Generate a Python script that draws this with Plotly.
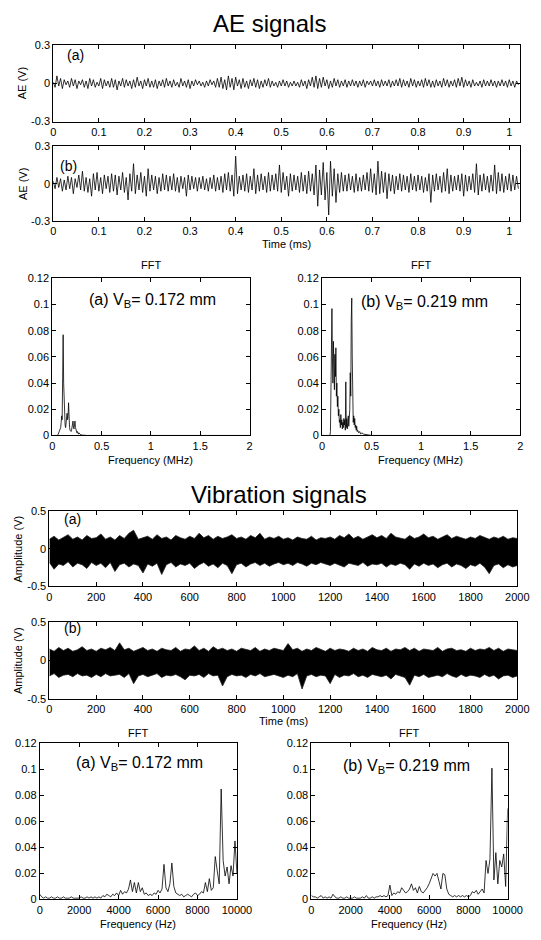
import plotly.graph_objects as go

W, H = 541, 940

# ---------------- data ----------------
AE_DT = 0.004  # ms per sample
ae_a = [
    0.01,-0.03,0.06,-0.02,0.04,-0.04,0.03,-0.01,0.02,-0.03,0.04,-0.02,0.03,-0.04,0.02,-0.01,
    0.03,-0.03,0.02,-0.04,0.04,-0.02,0.03,-0.03,0.01,-0.02,0.04,-0.04,0.03,-0.02,0.02,-0.03,
    0.04,-0.03,0.03,-0.05,0.02,-0.02,0.04,-0.03,0.03,-0.02,0.02,-0.04,0.03,-0.03,0.05,-0.02,
    0.02,-0.04,0.03,-0.02,0.04,-0.03,0.02,-0.03,0.03,-0.04,0.02,-0.02,0.03,-0.03,0.04,-0.02,
    0.02,-0.03,0.03,-0.02,0.01,-0.03,0.04,-0.02,0.02,-0.03,0.03,-0.04,0.02,-0.02,0.03,-0.01,
    0.02,-0.02,0.01,-0.03,0.02,-0.02,0.03,-0.01,0.02,-0.03,0.04,-0.03,0.05,-0.04,0.03,-0.05,
    0.06,-0.03,0.04,-0.05,0.05,-0.02,0.03,-0.04,0.04,-0.03,0.02,-0.04,0.03,-0.02,0.04,-0.03,
    0.03,-0.04,0.02,-0.03,0.03,-0.02,0.04,-0.03,0.02,-0.02,0.01,-0.03,0.02,-0.02,0.03,-0.02,
    0.02,-0.03,0.01,-0.02,0.02,-0.02,0.01,-0.03,0.03,-0.02,0.02,-0.04,0.03,-0.02,0.05,-0.03,
    0.06,-0.04,0.04,-0.03,0.05,-0.02,0.03,-0.04,0.02,-0.03,0.04,-0.02,0.03,-0.03,0.02,-0.02,
    0.03,-0.03,0.02,-0.02,0.03,-0.02,0.02,-0.03,0.02,-0.02,0.03,-0.03,0.02,-0.01,0.02,-0.02,
    0.03,-0.02,0.02,-0.03,0.03,-0.02,0.02,-0.02,0.03,-0.03,0.02,-0.02,0.03,-0.02,0.04,-0.03,
    0.03,-0.02,0.02,-0.03,0.04,-0.02,0.03,-0.03,0.02,-0.02,0.03,-0.03,0.04,-0.02,0.03,-0.03,
    0.02,-0.03,0.03,-0.02,0.02,-0.03,0.04,-0.02,0.03,-0.03,0.02,-0.02,0.03,-0.03,0.04,-0.02,
    0.05,-0.03,0.03,-0.02,0.02,-0.03,0.03,-0.02,0.01,-0.02,0.02,-0.03,0.03,-0.02,0.02,-0.02,
    0.03,-0.02,0.02,-0.03,0.02,-0.02,0.03,-0.02,0.02,-0.03,0.03,-0.02,0.02,-0.03,0.02,-0.01,
]
ae_b = [
    0.02,-0.04,0.05,-0.03,0.04,-0.06,0.03,-0.05,0.06,-0.04,0.05,-0.08,0.04,-0.03,0.07,-0.05,
    0.10,-0.06,0.05,-0.07,0.04,-0.10,0.08,-0.05,0.09,-0.06,0.05,-0.08,0.07,-0.04,0.06,-0.07,
    0.08,-0.06,0.07,-0.09,0.06,-0.05,0.09,-0.07,0.05,-0.13,0.08,-0.06,0.16,-0.08,0.07,-0.05,
    0.09,-0.07,0.06,-0.10,0.12,-0.06,0.07,-0.05,0.06,-0.08,0.05,-0.06,0.08,-0.05,0.07,-0.06,
    0.06,-0.05,0.08,-0.06,0.05,-0.07,0.06,-0.04,0.05,-0.10,0.07,-0.05,0.06,-0.04,0.05,-0.06,
    0.05,-0.04,0.06,-0.05,0.04,-0.06,0.05,-0.04,0.07,-0.06,0.05,-0.05,0.06,-0.07,0.08,-0.05,
    0.09,-0.06,0.07,-0.10,0.22,-0.08,0.06,-0.05,0.07,-0.06,0.08,-0.07,0.06,-0.05,0.12,-0.08,
    0.07,-0.06,0.08,-0.05,0.06,-0.07,0.09,-0.06,0.07,-0.05,0.08,-0.06,0.15,-0.07,0.09,-0.05,
    0.06,-0.10,0.08,-0.06,0.07,-0.05,0.06,-0.07,0.09,-0.06,0.07,-0.08,0.10,-0.06,0.08,-0.09,
    0.15,-0.18,0.11,-0.09,0.17,-0.13,0.09,-0.25,0.18,-0.10,0.12,-0.15,0.08,-0.07,0.09,-0.06,
    0.07,-0.06,0.08,-0.05,0.06,-0.07,0.08,-0.06,0.05,-0.06,0.07,-0.05,0.09,-0.06,0.12,-0.07,
    0.08,-0.09,0.18,-0.08,0.10,-0.07,0.09,-0.12,0.08,-0.06,0.07,-0.08,0.06,-0.05,0.08,-0.06,
    0.07,-0.05,0.06,-0.07,0.08,-0.05,0.06,-0.06,0.07,-0.05,0.06,-0.07,0.05,-0.06,0.08,-0.15,
    0.07,-0.06,0.08,-0.05,0.06,-0.07,0.09,-0.06,0.12,-0.08,0.07,-0.06,0.06,-0.05,0.07,-0.06,
    0.08,-0.10,0.07,-0.06,0.06,-0.05,0.08,-0.07,0.16,-0.09,0.07,-0.06,0.08,-0.05,0.06,-0.07,
    0.07,-0.06,0.15,-0.08,0.09,-0.06,0.08,-0.07,0.06,-0.05,0.08,-0.06,0.07,-0.05,0.06,-0.04,
]

fft_ae_a_freq = [0, 0.05, 0.06, 0.065, 0.07, 0.075, 0.08, 0.085, 0.09, 0.095, 0.10, 0.105, 0.11, 0.115,
                 0.12, 0.125, 0.13, 0.135, 0.14, 0.145, 0.15, 0.155, 0.16, 0.165, 0.17, 0.175, 0.18,
                 0.185, 0.19, 0.195, 0.20, 0.205, 0.21, 0.215, 0.22, 0.225, 0.23, 0.235, 0.24, 0.245,
                 0.25, 0.255, 0.26, 0.265, 0.27, 0.275, 0.28, 0.29, 0.30, 0.35, 2.0]
fft_ae_a_amp = [0, 0, 0.001, 0.002, 0.002, 0.003, 0.004, 0.006, 0.010, 0.015, 0.012, 0.050, 0.077, 0.040,
                0.020, 0.010, 0.008, 0.006, 0.009, 0.013, 0.017, 0.012, 0.015, 0.025, 0.010, 0.006, 0.004,
                0.003, 0.003, 0.004, 0.006, 0.008, 0.011, 0.006, 0.005, 0.008, 0.011, 0.006, 0.004, 0.003,
                0.002, 0.003, 0.002, 0.001, 0.002, 0.001, 0.001, 0.0005, 0.0003, 0.0, 0.0]

fft_ae_b_freq = [0, 0.08, 0.085, 0.09, 0.095, 0.10, 0.105, 0.11, 0.115, 0.12, 0.125, 0.13, 0.135, 0.14,
                 0.145, 0.15, 0.155, 0.16, 0.165, 0.17, 0.175, 0.18, 0.185, 0.19, 0.195, 0.20, 0.205,
                 0.21, 0.215, 0.22, 0.225, 0.23, 0.235, 0.24, 0.245, 0.25, 0.255, 0.26, 0.265, 0.27,
                 0.275, 0.28, 0.285, 0.29, 0.295, 0.30, 0.305, 0.31, 0.315, 0.32, 0.325, 0.33, 0.335,
                 0.34, 0.345, 0.35, 0.355, 0.36, 0.37, 0.38, 0.39, 0.40, 0.42, 0.45, 0.50, 2.0]
fft_ae_b_amp = [0, 0.0, 0.003, 0.053, 0.045, 0.097, 0.060, 0.040, 0.072, 0.055, 0.035, 0.062, 0.045, 0.067,
                0.030, 0.040, 0.022, 0.030, 0.015, 0.020, 0.010, 0.012, 0.006, 0.016, 0.008, 0.012, 0.005,
                0.010, 0.006, 0.013, 0.008, 0.012, 0.004, 0.041, 0.006, 0.013, 0.005, 0.010, 0.015, 0.007,
                0.012, 0.020, 0.048, 0.030, 0.088, 0.105, 0.060, 0.015, 0.010, 0.015, 0.008, 0.013, 0.006,
                0.008, 0.004, 0.007, 0.003, 0.004, 0.002, 0.003, 0.001, 0.002, 0.001, 0.0005, 0.0, 0.0]

VIB_T_END = 2000  # ms
vib_a_upper = [
    0.13,0.17,0.12,0.15,0.19,0.13,0.16,0.12,0.18,0.14,
    0.15,0.20,0.13,0.16,0.12,0.18,0.14,0.21,0.25,0.13,
    0.15,0.17,0.13,0.19,0.14,0.16,0.12,0.18,0.15,0.13,
    0.17,0.14,0.21,0.15,0.18,0.13,0.17,0.14,0.16,0.19,
    0.14,0.16,0.13,0.18,0.15,0.21,0.13,0.16,0.14,0.17,
    0.13,0.15,0.12,0.16,0.14,0.13,0.17,0.12,0.15,0.14,
    0.16,0.13,0.18,0.15,0.20,0.14,0.17,0.13,0.16,0.19,
    0.15,0.18,0.14,0.21,0.16,0.15,0.13,0.18,0.14,0.16,
    0.20,0.15,0.17,0.13,0.16,0.19,0.14,0.17,0.15,0.13,
    0.16,0.14,0.18,0.15,0.13,0.16,0.14,0.17,0.13,0.15,0.14,
]
vib_a_lower = [
    -0.18,-0.27,-0.20,-0.22,-0.17,-0.24,-0.19,-0.21,-0.26,-0.18,
    -0.22,-0.19,-0.25,-0.18,-0.30,-0.21,-0.19,-0.24,-0.20,-0.22,
    -0.32,-0.20,-0.23,-0.19,-0.34,-0.21,-0.18,-0.24,-0.20,-0.22,
    -0.19,-0.26,-0.21,-0.18,-0.23,-0.20,-0.25,-0.19,-0.22,-0.33,
    -0.21,-0.19,-0.24,-0.20,-0.18,-0.22,-0.19,-0.23,-0.20,-0.18,
    -0.21,-0.19,-0.22,-0.18,-0.20,-0.23,-0.19,-0.21,-0.18,-0.20,
    -0.22,-0.19,-0.21,-0.24,-0.19,-0.20,-0.22,-0.18,-0.23,-0.20,
    -0.21,-0.19,-0.24,-0.20,-0.22,-0.19,-0.21,-0.27,-0.20,-0.23,
    -0.19,-0.22,-0.20,-0.25,-0.21,-0.19,-0.24,-0.20,-0.22,-0.26,
    -0.21,-0.23,-0.19,-0.24,-0.33,-0.22,-0.20,-0.25,-0.21,-0.24,-0.22,
]
vib_b_upper = [
    0.15,0.12,0.17,0.13,0.16,0.12,0.14,0.18,0.13,0.15,
    0.12,0.16,0.14,0.17,0.13,0.23,0.14,0.16,0.12,0.15,
    0.17,0.13,0.15,0.12,0.16,0.14,0.13,0.17,0.12,0.15,
    0.14,0.19,0.13,0.16,0.12,0.18,0.14,0.16,0.13,0.15,
    0.12,0.16,0.14,0.13,0.17,0.12,0.15,0.13,0.16,0.14,
    0.13,0.22,0.14,0.16,0.12,0.15,0.13,0.17,0.14,0.12,
    0.16,0.13,0.15,0.14,0.12,0.16,0.13,0.15,0.12,0.17,
    0.14,0.13,0.16,0.12,0.15,0.14,0.17,0.13,0.16,0.12,
    0.15,0.14,0.13,0.17,0.12,0.15,0.16,0.13,0.14,0.12,
    0.16,0.13,0.15,0.14,0.17,0.13,0.16,0.12,0.15,0.14,0.13,
]
vib_b_lower = [
    -0.20,-0.17,-0.22,-0.19,-0.18,-0.21,-0.17,-0.20,-0.19,-0.22,
    -0.18,-0.21,-0.17,-0.20,-0.19,-0.18,-0.22,-0.17,-0.30,-0.20,
    -0.18,-0.21,-0.19,-0.17,-0.22,-0.19,-0.20,-0.18,-0.21,-0.25,
    -0.19,-0.20,-0.18,-0.22,-0.17,-0.20,-0.19,-0.33,-0.21,-0.18,
    -0.20,-0.19,-0.22,-0.18,-0.20,-0.17,-0.21,-0.19,-0.18,-0.20,
    -0.22,-0.19,-0.21,-0.17,-0.37,-0.20,-0.18,-0.21,-0.19,-0.20,
    -0.30,-0.18,-0.22,-0.19,-0.20,-0.17,-0.21,-0.19,-0.22,-0.18,
    -0.20,-0.21,-0.19,-0.24,-0.18,-0.20,-0.22,-0.32,-0.19,-0.21,
    -0.18,-0.22,-0.20,-0.19,-0.21,-0.17,-0.20,-0.22,-0.18,-0.21,
    -0.19,-0.20,-0.22,-0.18,-0.21,-0.19,-0.24,-0.20,-0.19,-0.22,-0.20,
]

FFT_VIB_DF = 100  # Hz
fft_vib_a = [
    0.004,0.002,0.001,0.002,0.001,0.001,0.002,0.001,0.001,0.002,
    0.001,0.001,0.002,0.001,0.001,0.001,0.002,0.001,0.001,0.001,
    0.001,0.002,0.001,0.001,0.002,0.001,0.002,0.001,0.002,0.001,
    0.002,0.001,0.003,0.002,0.004,0.003,0.002,0.004,0.003,0.005,
    0.003,0.007,0.004,0.006,0.005,0.008,0.015,0.006,0.013,0.005,
    0.013,0.006,0.009,0.004,0.005,0.003,0.004,0.003,0.005,0.004,
    0.007,0.005,0.008,0.027,0.009,0.006,0.012,0.028,0.010,0.005,
    0.004,0.003,0.004,0.002,0.003,0.004,0.003,0.002,0.004,0.005,
    0.003,0.004,0.006,0.005,0.013,0.006,0.016,0.007,0.009,0.033,
    0.022,0.012,0.085,0.030,0.018,0.025,0.012,0.026,0.018,0.045,0.020,
]
fft_vib_b = [
    0.003,0.002,0.002,0.001,0.002,0.003,0.001,0.002,0.001,0.002,
    0.001,0.004,0.002,0.001,0.001,0.002,0.001,0.001,0.002,0.001,
    0.001,0.001,0.002,0.001,0.001,0.001,0.002,0.001,0.003,0.001,
    0.001,0.002,0.001,0.002,0.002,0.003,0.002,0.003,0.002,0.003,
    0.011,0.003,0.005,0.004,0.006,0.005,0.009,0.007,0.005,0.006,
    0.008,0.012,0.007,0.009,0.005,0.010,0.006,0.005,0.007,0.009,
    0.012,0.016,0.020,0.018,0.020,0.014,0.008,0.020,0.019,0.008,
    0.004,0.003,0.002,0.003,0.002,0.003,0.002,0.003,0.002,0.003,
    0.002,0.003,0.006,0.005,0.007,0.004,0.006,0.008,0.005,0.030,
    0.020,0.031,0.101,0.015,0.036,0.012,0.030,0.025,0.035,0.010,0.070,
]

ae_ticks = [0, 0.1, 0.2, 0.3, 0.4, 0.5, 0.6, 0.7, 0.8, 0.9, 1]
ae_tick_text = ["0", "0.1", "0.2", "0.3", "0.4", "0.5", "0.6", "0.7", "0.8", "0.9", "1"]
ae_y_ticks = [-0.3, 0, 0.3]
ae_y_text = ["-0.3", "0", "0.3"]
vib_ticks = list(range(0, 2001, 200))
vib_tick_text = [str(v) for v in vib_ticks]
vib_y_ticks = [-0.5, 0, 0.5]
vib_y_text = ["-0.5", "0", "0.5"]
fft_y_ticks = [0, 0.02, 0.04, 0.06, 0.08, 0.1, 0.12]
fft_y_text = ["0", "0.02", "0.04", "0.06", "0.08", "0.1", "0.12"]
mhz_ticks = [0, 0.5, 1, 1.5, 2]
mhz_text = ["0", "0.5", "1", "1.5", "2"]
hz_ticks = [0, 2000, 4000, 6000, 8000, 10000]
hz_text = ["0", "2000", "4000", "6000", "8000", "10000"]

# ---------------- layout helpers ----------------
FONT = "Arial, Liberation Sans, sans-serif"


def xd(l, r):
    return [l / W, r / W]


def yd(t, b):
    return [1 - b / H, 1 - t / H]


def axis(domain, anchor, rng, tickvals, ticktext):
    return dict(domain=domain, anchor=anchor, range=rng, tickvals=tickvals, ticktext=ticktext,
                showline=True, linecolor="black", linewidth=1, mirror="ticks",
                ticks="inside", ticklen=4, tickwidth=1, tickcolor="black",
                showgrid=False, zeroline=False, fixedrange=True,
                tickfont=dict(family=FONT, size=11, color="black"))


fig = go.Figure()
line = dict(color="black", width=0.8)

ae_t_a = [i * AE_DT for i in range(len(ae_a))]
ae_t_b = [i * AE_DT for i in range(len(ae_b))]
fig.add_trace(go.Scatter(x=ae_t_a, y=ae_a, mode="lines", line=line, xaxis="x", yaxis="y"))
fig.add_trace(go.Scatter(x=ae_t_b, y=ae_b, mode="lines", line=line, xaxis="x2", yaxis="y2"))
fig.add_trace(go.Scatter(x=fft_ae_a_freq, y=fft_ae_a_amp, mode="lines", line=line, xaxis="x3", yaxis="y3"))
fig.add_trace(go.Scatter(x=fft_ae_b_freq, y=fft_ae_b_amp, mode="lines", line=line, xaxis="x4", yaxis="y4"))

for up, lo, xa, ya in [(vib_a_upper, vib_a_lower, "x5", "y5"), (vib_b_upper, vib_b_lower, "x6", "y6")]:
    n = len(up)
    t = [VIB_T_END * i / (n - 1) for i in range(n)]
    fig.add_trace(go.Scatter(x=t, y=up, mode="lines", line=dict(color="#222", width=0.8),
                             xaxis=xa, yaxis=ya))
    fig.add_trace(go.Scatter(x=t, y=lo, mode="lines", line=dict(color="#222", width=0.8),
                             fill="tonexty", fillcolor="black", xaxis=xa, yaxis=ya))

f_a = [i * FFT_VIB_DF for i in range(len(fft_vib_a))]
f_b = [i * FFT_VIB_DF for i in range(len(fft_vib_b))]
fig.add_trace(go.Scatter(x=f_a, y=fft_vib_a, mode="lines", line=line, xaxis="x7", yaxis="y7"))
fig.add_trace(go.Scatter(x=f_b, y=fft_vib_b, mode="lines", line=line, xaxis="x8", yaxis="y8"))

lay = dict(
    width=W, height=H, margin=dict(l=0, r=0, t=0, b=0),
    paper_bgcolor="white", plot_bgcolor="white", showlegend=False,
    font=dict(family=FONT, size=11, color="black"),
)
lay["xaxis"] = axis(xd(52, 535), "y", [0, 1.024], ae_ticks, ae_tick_text)
lay["yaxis"] = axis(yd(40, 117), "x", [-0.3, 0.3], ae_y_ticks, ae_y_text)
lay["xaxis2"] = axis(xd(52, 535), "y2", [0, 1.024], ae_ticks, ae_tick_text)
lay["yaxis2"] = axis(yd(142, 218), "x2", [-0.3, 0.3], ae_y_ticks, ae_y_text)
lay["xaxis3"] = axis(xd(51, 255), "y3", [0, 2], mhz_ticks, mhz_text)
lay["yaxis3"] = axis(yd(276, 435), "x3", [0, 0.12], fft_y_ticks, fft_y_text)
lay["xaxis4"] = axis(xd(330, 535), "y4", [0, 2], mhz_ticks, mhz_text)
lay["yaxis4"] = axis(yd(276, 435), "x4", [0, 0.12], fft_y_ticks, fft_y_text)
lay["xaxis5"] = axis(xd(48, 532), "y5", [0, 2000], vib_ticks, vib_tick_text)
lay["yaxis5"] = axis(yd(512, 588), "x5", [-0.5, 0.5], vib_y_ticks, vib_y_text)
lay["xaxis6"] = axis(xd(48, 532), "y6", [0, 2000], vib_ticks, vib_tick_text)
lay["yaxis6"] = axis(yd(624, 702), "x6", [-0.5, 0.5], vib_y_ticks, vib_y_text)
lay["xaxis7"] = axis(xd(38, 242), "y7", [0, 10000], hz_ticks, hz_text)
lay["yaxis7"] = axis(yd(747, 905), "x7", [0, 0.12], fft_y_ticks, fft_y_text)
lay["xaxis8"] = axis(xd(319, 522), "y8", [0, 10000], hz_ticks, hz_text)
lay["yaxis8"] = axis(yd(747, 905), "x8", [0, 0.12], fft_y_ticks, fft_y_text)
fig.update_layout(**lay)


def ann(text, x, y, size=11, angle=0):
    fig.add_annotation(text=text, x=x / W, y=1 - y / H, xref="paper", yref="paper",
                       showarrow=False, textangle=angle, xanchor="center", yanchor="middle",
                       font=dict(family=FONT, size=size, color="black"))


ann("AE signals", 276, 18, size=24)
ann("Vibration signals", 285, 495, size=24)
ann("AE (V)", 20, 78, angle=-90)
ann("AE (V)", 20, 180, angle=-90)
ann("Amplitude (V)", 15, 550, angle=-90)
ann("Amplitude (V)", 15, 663, angle=-90)
ann("Time (ms)", 293, 241)
ann("Time (ms)", 290, 724)
ann("FFT", 153, 262)
ann("FFT", 432, 262)
ann("FFT", 140, 736)
ann("FFT", 420, 736)
ann("Frequency (MHz)", 153, 460)
ann("Frequency (MHz)", 432, 460)
ann("Frequency (Hz)", 140, 930)
ann("Frequency (Hz)", 420, 930)
ann("(a)", 75, 50, size=14)
ann("(b)", 68, 162, size=14)
ann("(a)", 72, 520, size=14)
ann("(b)", 72, 630, size=14)
ann("(a) V<sub>B</sub>= 0.172 mm", 155, 298, size=16)
ann("(b) V<sub>B</sub>= 0.219 mm", 436, 300, size=16)
ann("(a) V<sub>B</sub>= 0.172 mm", 141, 767, size=16)
ann("(b) V<sub>B</sub>= 0.219 mm", 417, 770, size=16)

fig.write_html("out.html")
